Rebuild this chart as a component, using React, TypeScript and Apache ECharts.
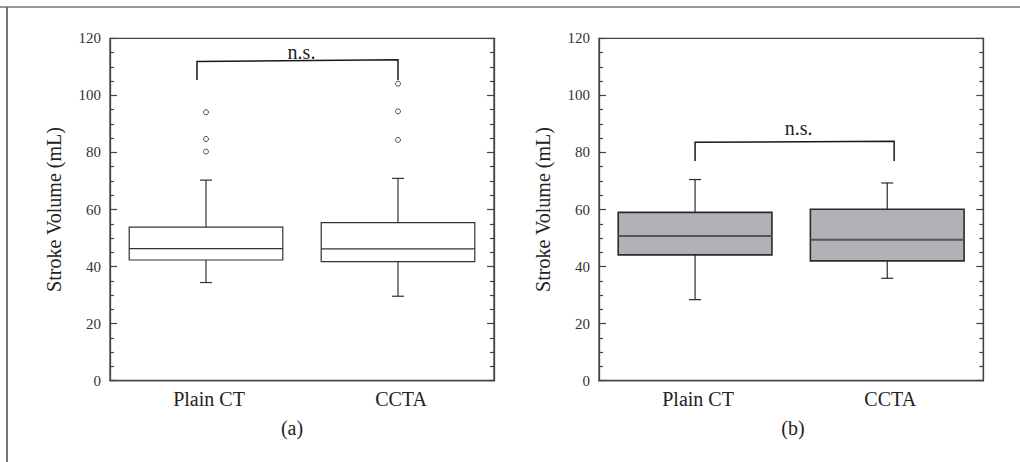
import React, { useEffect, useRef } from "react";
import * as echarts from "echarts";

const categories = ["Plain CT", "CCTA"];
const yTickValues = { min: 0, max: 120, interval: 20 };

// [categoryIndex, whiskerLow, Q1, median, Q3, whiskerHigh]
const panelABoxes = [
  [0, 34.4, 42.3, 46.3, 53.8, 70.3],
  [1, 29.6, 41.7, 46.2, 55.4, 70.9],
];
const panelBBoxes = [
  [0, 28.4, 44.1, 50.7, 59.0, 70.5],
  [1, 35.9, 42.0, 49.4, 60.1, 69.3],
];
// [categoryIndex, value]
const panelAOutliers = [
  [0, 94.1],
  [0, 84.7],
  [0, 80.3],
  [1, 104.1],
  [1, 94.4],
  [1, 84.4],
];
// [leftIdx, rightIdx, leftBandOffset, rightBandOffset, topLeft, topRight, legBottom, labelValue]
const panelABracket = [[0, 1, -0.047, 0, 111.9, 112.5, 105.4, 115.2]];
const panelBBracket = [[0, 1, 0, 0.036, 83.55, 83.9, 77.0, 88.4]];
const bracketLabel = "n.s.";
const panelLabels = ["(a)", "(b)"];
const axisName = "Stroke Volume (mL)";

const FONT = "'Liberation Serif', 'Times New Roman', serif";

function boxRenderer(fill: string, stroke: string, lw: number, medColor: string, medW: number) {
  return (params: any, api: any) => {
    const idx = api.value(0);
    const low = api.coord([idx, api.value(1)]);
    const q1 = api.coord([idx, api.value(2)]);
    const med = api.coord([idx, api.value(3)]);
    const q3 = api.coord([idx, api.value(4)]);
    const high = api.coord([idx, api.value(5)]);
    const bw = api.size([1, 0])[0] * 0.8;
    const cx = q1[0];
    const cap = 12;
    const ls = { stroke, lineWidth: 1.2 };
    return {
      type: "group",
      children: [
        { type: "line", shape: { x1: cx, y1: high[1], x2: cx, y2: q3[1] }, style: ls },
        { type: "line", shape: { x1: cx - cap / 2, y1: high[1], x2: cx + cap / 2, y2: high[1] }, style: ls },
        { type: "line", shape: { x1: cx, y1: low[1], x2: cx, y2: q1[1] }, style: ls },
        { type: "line", shape: { x1: cx - cap / 2, y1: low[1], x2: cx + cap / 2, y2: low[1] }, style: ls },
        {
          type: "rect",
          shape: { x: cx - bw / 2, y: q3[1], width: bw, height: q1[1] - q3[1] },
          style: { fill, stroke, lineWidth: lw },
        },
        {
          type: "line",
          shape: { x1: cx - bw / 2, y1: med[1], x2: cx + bw / 2, y2: med[1] },
          style: { stroke: medColor, lineWidth: medW },
        },
      ],
    };
  };
}

function bracketRenderer(params: any, api: any) {
  const band = api.size([1, 0])[0];
  const l = api.value(0);
  const r = api.value(1);
  const xl = api.coord([l, 0])[0] + api.value(2) * band;
  const xr = api.coord([r, 0])[0] + api.value(3) * band;
  const yTl = api.coord([l, api.value(4)])[1];
  const yTr = api.coord([r, api.value(5)])[1];
  const yB = api.coord([l, api.value(6)])[1];
  const yLab = api.coord([l, api.value(7)])[1];
  return {
    type: "group",
    children: [
      {
        type: "polyline",
        shape: { points: [[xl, yB], [xl, yTl], [xr, yTr], [xr, yB]] },
        style: { stroke: "#1a1a1a", lineWidth: 1.5, fill: null },
      },
      {
        type: "text",
        x: (xl + xr) / 2 + 4,
        y: yLab,
        style: {
          text: bracketLabel,
          font: `20px ${FONT}`,
          fill: "#222",
          align: "center",
          verticalAlign: "middle",
        },
      },
    ],
  };
}

function makeYAxis(gridIndex: number, position: string, withLabel: boolean) {
  return {
    type: "value",
    gridIndex,
    position,
    min: yTickValues.min,
    max: yTickValues.max,
    interval: yTickValues.interval,
    name: withLabel ? axisName : "",
    nameLocation: "middle",
    nameGap: 46,
    nameTextStyle: { fontSize: 20, fontFamily: FONT, color: "#222" },
    axisLine: { show: true, lineStyle: { color: "#444", width: 1.3 } },
    axisTick: { show: true, inside: true, length: 7, lineStyle: { color: "#444", width: 1.2 } },
    minorTick: { show: true, splitNumber: 4, length: 4, lineStyle: { color: "#444", width: 1.2 } },
    axisLabel: { show: withLabel, fontSize: 15, fontFamily: FONT, color: "#333", margin: 9 },
    splitLine: { show: false },
    minorSplitLine: { show: false },
  };
}

function makeXAxis(gridIndex: number) {
  return {
    type: "category",
    gridIndex,
    data: categories,
    boundaryGap: true,
    axisLine: { show: true, lineStyle: { color: "#444", width: 1.3 } },
    axisTick: { show: false },
    axisLabel: { fontSize: 20, fontFamily: FONT, color: "#222", margin: 8, padding: [0, 0, 0, 6] },
    splitLine: { show: false },
  };
}

export default function App() {
  const ref = useRef<HTMLDivElement>(null);
  useEffect(() => {
    if (!ref.current) return;
    const chart = echarts.init(ref.current, null, { renderer: "svg" });
    const gridCommon = { top: 38.3, height: 342.4, show: true, borderColor: "#444", borderWidth: 1.3, backgroundColor: "transparent" };
    chart.setOption({
      animation: false,
      backgroundColor: "#fff",
      grid: [
        { ...gridCommon, left: 110, width: 384 },
        { ...gridCommon, left: 599, width: 384.3 },
      ],
      xAxis: [makeXAxis(0), makeXAxis(1)],
      yAxis: [
        makeYAxis(0, "left", true),
        makeYAxis(0, "right", false),
        makeYAxis(1, "left", true),
        makeYAxis(1, "right", false),
      ],
      series: [
        {
          type: "custom",
          xAxisIndex: 0,
          yAxisIndex: 0,
          data: panelABoxes,
          encode: { x: 0, y: [1, 2, 3, 4, 5] },
          renderItem: boxRenderer("#fff", "#333", 1.2, "#333", 1.2),
        },
        {
          type: "scatter",
          xAxisIndex: 0,
          yAxisIndex: 0,
          data: panelAOutliers,
          symbol: "circle",
          symbolSize: 5,
          itemStyle: { color: "#fff", borderColor: "#222", borderWidth: 1 },
        },
        {
          type: "custom",
          xAxisIndex: 0,
          yAxisIndex: 0,
          data: panelABracket,
          encode: { x: [0, 1], y: [4, 5, 6] },
          renderItem: bracketRenderer,
        },
        {
          type: "custom",
          xAxisIndex: 1,
          yAxisIndex: 2,
          data: panelBBoxes,
          encode: { x: 0, y: [1, 2, 3, 4, 5] },
          renderItem: boxRenderer("#b1b2b5", "#2a2a2a", 1.6, "#555", 2),
        },
        {
          type: "custom",
          xAxisIndex: 1,
          yAxisIndex: 2,
          data: panelBBracket,
          encode: { x: [0, 1], y: [4, 5, 6] },
          renderItem: bracketRenderer,
        },
      ],
      graphic: [
        { type: "line", shape: { x1: 0, y1: 7, x2: 1020, y2: 7 }, style: { stroke: "#333", lineWidth: 1.2 } },
        { type: "line", shape: { x1: 7, y1: 7, x2: 7, y2: 462 }, style: { stroke: "#666", lineWidth: 1.8 } },
        {
          type: "text",
          x: 292,
          y: 428,
          style: { text: panelLabels[0], font: `20px ${FONT}`, fill: "#222", align: "center", verticalAlign: "middle" },
        },
        {
          type: "text",
          x: 793,
          y: 428,
          style: { text: panelLabels[1], font: `20px ${FONT}`, fill: "#222", align: "center", verticalAlign: "middle" },
        },
      ],
    });
    return () => chart.dispose();
  }, []);
  return <div ref={ref} style={{ position: "absolute", left: 0, top: 0, width: 1020, height: 462 }} />;
}
